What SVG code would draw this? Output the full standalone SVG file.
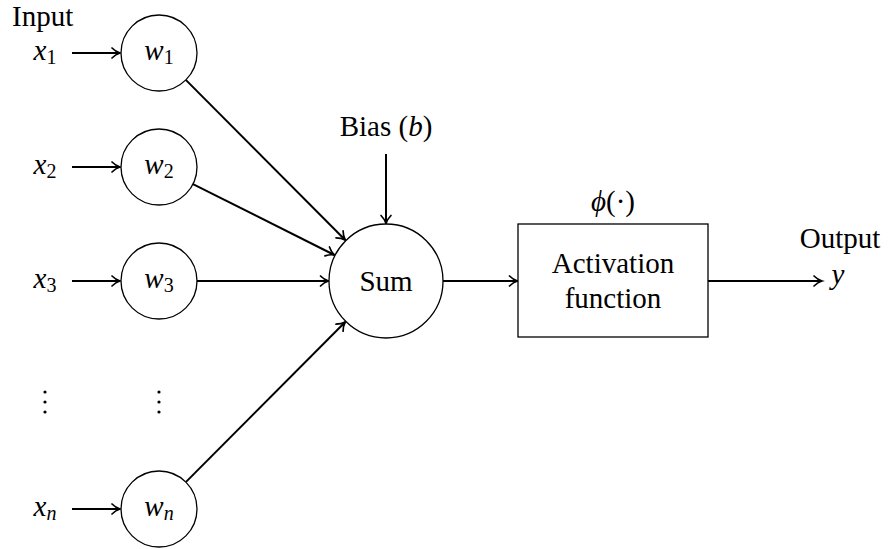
<svg xmlns="http://www.w3.org/2000/svg" width="888" height="549" viewBox="0 0 888 549">
<defs>
<marker id="arr" markerUnits="userSpaceOnUse" markerWidth="20" markerHeight="20" viewBox="-10 -10 20 20" refX="0" refY="0" orient="auto">
<path d="M-8,-5 C-5,-2 -2,-0.6 0,0 C-2,0.6 -5,2 -8,5" fill="none" stroke="#000" stroke-width="1.7" stroke-linecap="round"/>
</marker>
</defs>
<style>
text{font-family:"Liberation Serif","Times New Roman",serif;font-size:29px;fill:#000}
.m{font-style:italic}
.s{font-style:normal;font-size:20px}
.si{font-style:italic;font-size:20px}
.node{fill:#fff;stroke:#000;stroke-width:1.3}
.e{stroke:#000;stroke-width:2;fill:none;marker-end:url(#arr)}
</style>
<rect width="888" height="549" fill="#fff"/>
<g id="connectors">
<line class="e" x1="72" y1="53" x2="120" y2="53"/>
<line class="e" x1="72" y1="167" x2="120" y2="167"/>
<line class="e" x1="72" y1="281" x2="120" y2="281"/>
<line class="e" x1="72" y1="509" x2="120" y2="509"/>
<line class="e" x1="185.8" y1="79.9" x2="345.2" y2="240"/>
<line class="e" x1="193" y1="184.1" x2="334.4" y2="255"/>
<line class="e" x1="197" y1="281" x2="328.5" y2="281"/>
<line class="e" x1="185.8" y1="482.1" x2="345.2" y2="322"/>
<line class="e" x1="386" y1="154" x2="386" y2="223.5"/>
<line class="e" x1="443" y1="281" x2="517.5" y2="281"/>
<line class="e" x1="708" y1="281" x2="822" y2="281"/>
</g>
<g id="input-label"><text x="12" y="26">Input</text></g>
<g id="x1"><text x="45" y="60" text-anchor="middle" class="m">x<tspan class="s" dy="4">1</tspan></text></g>
<g id="x2"><text x="45" y="174" text-anchor="middle" class="m">x<tspan class="s" dy="4">2</tspan></text></g>
<g id="x3"><text x="45" y="288" text-anchor="middle" class="m">x<tspan class="s" dy="4">3</tspan></text></g>
<g id="xn"><text x="45" y="516" text-anchor="middle" class="m">x<tspan class="si" dy="4">n</tspan></text></g>
<g id="w1"><circle class="node" cx="159" cy="53" r="38"/><text x="159" y="60" text-anchor="middle" class="m">w<tspan class="s" dy="4">1</tspan></text></g>
<g id="w2"><circle class="node" cx="159" cy="167" r="38"/><text x="159" y="174" text-anchor="middle" class="m">w<tspan class="s" dy="4">2</tspan></text></g>
<g id="w3"><circle class="node" cx="159" cy="281" r="38"/><text x="159" y="288" text-anchor="middle" class="m">w<tspan class="s" dy="4">3</tspan></text></g>
<g id="wn"><circle class="node" cx="159" cy="509" r="38"/><text x="159" y="516" text-anchor="middle" class="m">w<tspan class="si" dy="4">n</tspan></text></g>
<g id="dots-x"><circle cx="45" cy="392" r="1.6"/><circle cx="45" cy="402" r="1.6"/><circle cx="45" cy="412" r="1.6"/></g>
<g id="dots-w"><circle cx="159" cy="392" r="1.6"/><circle cx="159" cy="402" r="1.6"/><circle cx="159" cy="412" r="1.6"/></g>
<g id="bias"><text x="386" y="136" text-anchor="middle">Bias (<tspan class="m">b</tspan>)</text></g>
<g id="sum"><circle class="node" cx="386" cy="281" r="57"/><text x="386" y="291" text-anchor="middle">Sum</text></g>
<g id="activation"><rect class="node" x="518" y="224" width="190" height="113"/><text x="613" y="273" text-anchor="middle">Activation</text><text x="613" y="308" text-anchor="middle">function</text><text x="613" y="211" text-anchor="middle"><tspan class="m">ϕ</tspan>(·)</text></g>
<g id="output"><text x="840" y="248" text-anchor="middle">Output</text><text x="838" y="284" text-anchor="middle" class="m">y</text></g>
</svg>
